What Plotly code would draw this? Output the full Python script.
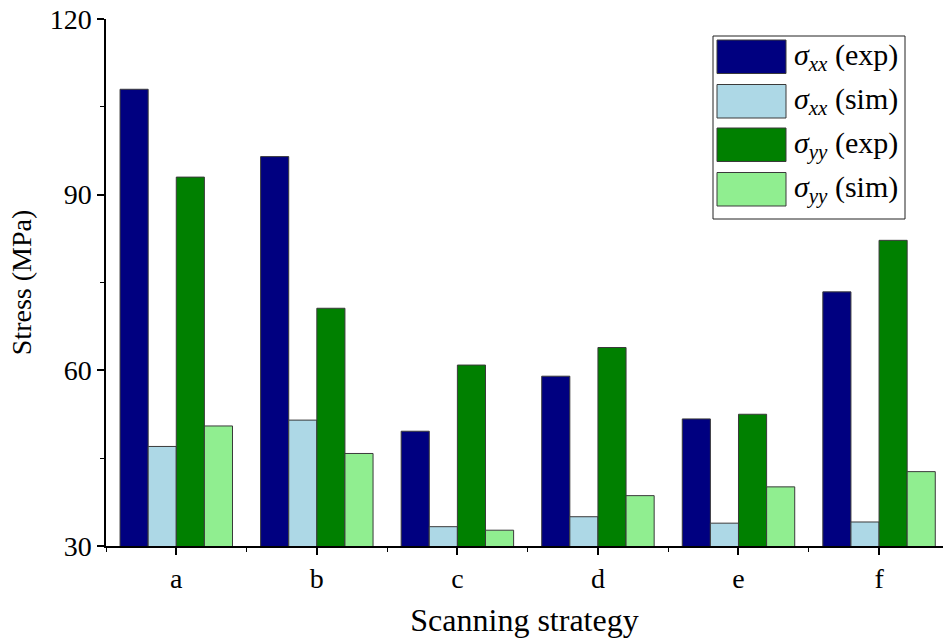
import plotly.graph_objects as go

# Residual stress per scanning strategy
strategies = ["a", "b", "c", "d", "e", "f"]
sxx_exp = [108.0, 96.5, 49.6, 59.0, 51.7, 73.4]
sxx_sim = [47.0, 51.5, 33.3, 35.0, 33.9, 34.1]
syy_exp = [93.0, 70.6, 60.9, 63.9, 52.5, 82.2]
syy_sim = [50.5, 45.8, 32.7, 38.6, 40.1, 42.7]

series_names = [
    "<i>σ</i><sub><i>xx</i></sub> (exp)",
    "<i>σ</i><sub><i>xx</i></sub> (sim)",
    "<i>σ</i><sub><i>yy</i></sub> (exp)",
    "<i>σ</i><sub><i>yy</i></sub> (sim)",
]
series_values = [sxx_exp, sxx_sim, syy_exp, syy_sim]
colors = ["#000080", "#ADD8E6", "#008000", "#90EE90"]

FONT = "Liberation Serif"
W, H = 943, 640
ML, MR, MT, MB = 106, 0, 19, 94

x_pos = list(range(len(strategies)))

fig = go.Figure()
for name, vals, col in zip(series_names, series_values, colors):
    fig.add_trace(go.Bar(
        x=x_pos, y=vals, name=name,
        marker=dict(color=col, line=dict(color="#3a3a3a", width=1)),
        showlegend=False,
    ))

# Boxed legend with large swatches, built in paper coordinates
plot_w = W - ML - MR
plot_h = H - MT - MB


def px_x(px):
    return (px - ML) / plot_w


def px_y(py):
    return (H - MB - py) / plot_h


shapes = [dict(type="rect", xref="paper", yref="paper",
               x0=px_x(713), x1=px_x(905), y0=px_y(219), y1=px_y(36),
               line=dict(color="#222222", width=1), fillcolor="white", layer="above")]
annotations = []
row_tops = [40, 84.5, 128, 172.5]
for top, name, col in zip(row_tops, series_names, colors):
    shapes.append(dict(type="rect", xref="paper", yref="paper",
                       x0=px_x(717), x1=px_x(786), y0=px_y(top + 33.5), y1=px_y(top),
                       line=dict(color="#3a3a3a", width=1), fillcolor=col, layer="above"))
    annotations.append(dict(xref="paper", yref="paper", x=px_x(792), y=px_y(top + 17),
                            xanchor="left", yanchor="middle", text=name, showarrow=False,
                            font=dict(family=FONT, size=30, color="black")))

fig.update_layout(
    width=W, height=H,
    margin=dict(l=ML, r=MR, t=MT, b=MB),
    paper_bgcolor="white", plot_bgcolor="white",
    barmode="group", bargap=0.2, bargroupgap=0,
    font=dict(family=FONT, size=24, color="black"),
    shapes=shapes, annotations=annotations,
    xaxis=dict(
        range=[-0.5, 5.455], tickmode="array", tickvals=x_pos, ticktext=strategies,
        showline=True, linecolor="black", linewidth=1.5, mirror=False,
        ticks="outside", ticklen=7, tickwidth=1.5, tickcolor="black",
        minor=dict(tickmode="linear", tick0=-0.5, dtick=1, ticks="outside",
                   ticklen=4, tickwidth=1, tickcolor="black"),
        showgrid=False, zeroline=False,
        tickfont=dict(family=FONT, size=28),
        title=dict(text="Scanning strategy", font=dict(family=FONT, size=32), standoff=15),
    ),
    yaxis=dict(
        range=[30, 120], tickmode="array", tickvals=[30, 60, 90, 120],
        showline=True, linecolor="black", linewidth=1.5, mirror=False,
        ticks="outside", ticklen=7, tickwidth=1.5, tickcolor="black",
        minor=dict(tickmode="linear", tick0=30, dtick=15, ticks="outside",
                   ticklen=4, tickwidth=1, tickcolor="black"),
        showgrid=False, zeroline=False,
        tickfont=dict(family=FONT, size=28),
        title=dict(text="Stress (MPa)", font=dict(family=FONT, size=28), standoff=10),
    ),
)

fig.write_html("out.html")
